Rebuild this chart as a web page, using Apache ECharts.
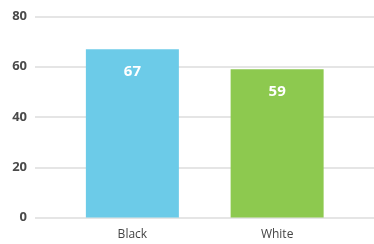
<!DOCTYPE html>
<html><head><meta charset="utf-8">
<script src="https://cdn.jsdelivr.net/npm/echarts@6/dist/echarts.min.js"></script>
<style>html,body{margin:0;padding:0;background:#fff}#c{width:374px;height:244px}</style>
</head><body><div id="c"></div>
<script>
const categories = ['Black', 'White'];
const values = [67, 59];
const barColors = ['#6ccbe8', '#8dc94f'];
const yTicks = [0, 20, 40, 60, 80];

const chart = echarts.init(document.getElementById('c'), null, {renderer: 'canvas'});
const gTop = 16.5, gBottom = 26.5;
chart.setOption({
  animation: false,
  grid: [
    {left: 35, right: 0, top: gTop, bottom: gBottom},
    {left: 60, right: 24.5, top: gTop, bottom: gBottom}
  ],
  xAxis: [
    {gridIndex: 0, type: 'category', data: categories, show: false},
    {gridIndex: 1, type: 'category', data: categories,
     axisLine: {show: false}, axisTick: {show: false},
     axisLabel: {color: '#444', fontSize: 12, fontFamily: 'Open Sans', margin: 11}}
  ],
  yAxis: [
    {gridIndex: 0, type: 'value', min: yTicks[0], max: yTicks[yTicks.length-1], interval: 20,
     axisLine: {show: false}, axisTick: {show: false},
     splitLine: {lineStyle: {color: '#dcdcdc', width: 1.5}},
     axisLabel: {color: '#4a4a4a', fontSize: 13, fontWeight: 'bold', fontFamily: 'Open Sans', margin: 8}},
    {gridIndex: 1, type: 'value', min: 0, max: 80, show: false}
  ],
  series: [{
    type: 'bar', xAxisIndex: 1, yAxisIndex: 1,
    barWidth: 93,
    data: values.map((v, i) => ({value: v, itemStyle: {color: barColors[i]}})),
    label: {show: true, position: 'insideTop', distance: 15, color: '#fff',
            fontSize: 15, fontWeight: 'bold', fontFamily: 'Open Sans'}
  }]
});
</script></body></html>
